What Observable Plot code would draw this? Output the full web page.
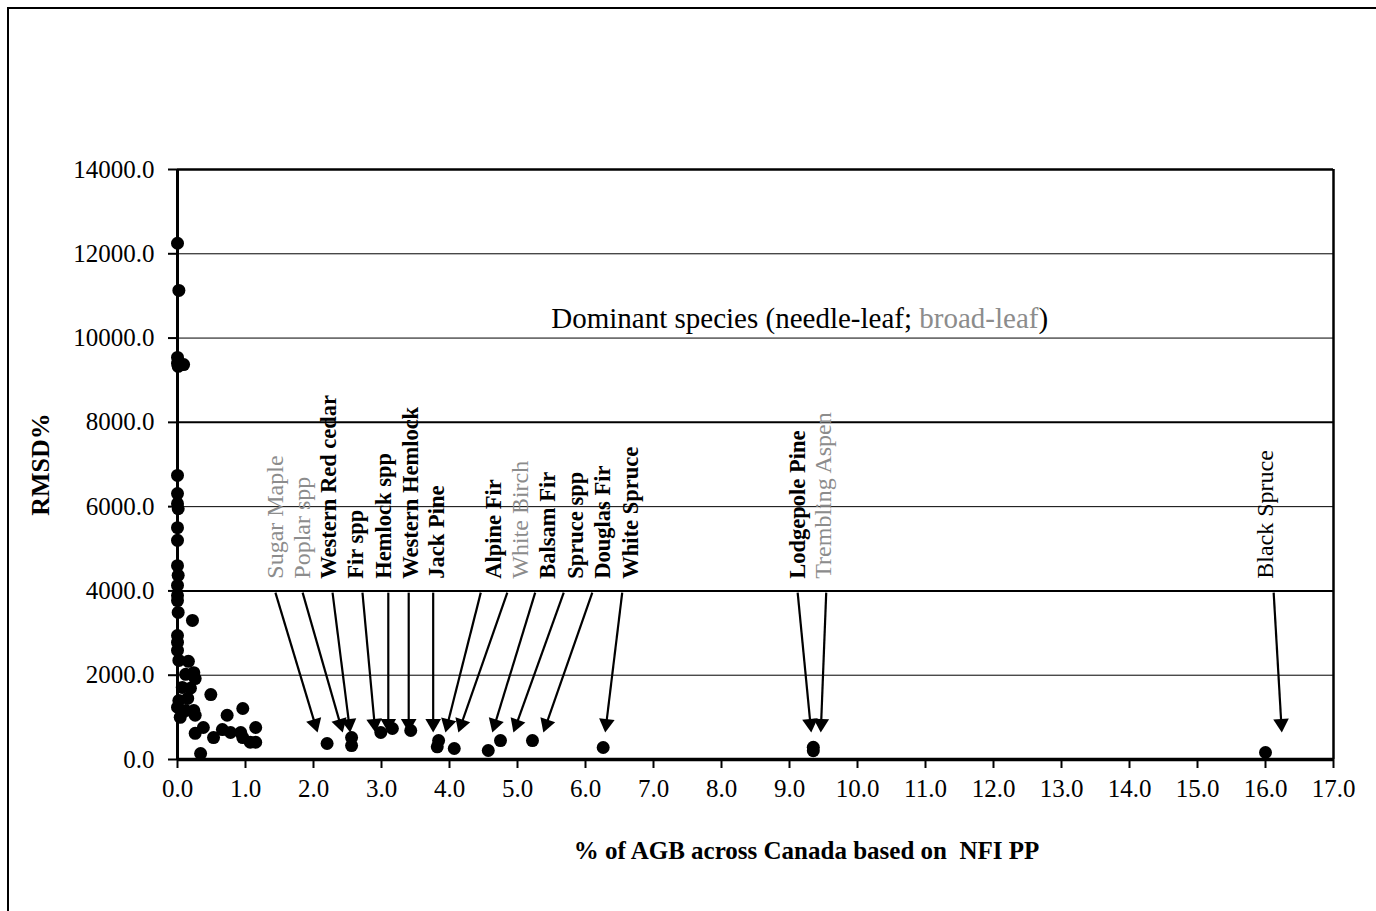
<!DOCTYPE html>
<html><head><meta charset="utf-8">
<script src="https://cdn.jsdelivr.net/npm/d3@7"></script>
<script src="https://cdn.jsdelivr.net/npm/@observablehq/plot@0.6"></script>
<style>
html,body{margin:0;padding:0;background:#fff;}
#wrap{position:relative;width:1376px;height:911px;overflow:hidden;background:#fff;}
#chart{position:absolute;left:0;top:0;}
#border{position:absolute;left:7px;top:7px;width:1500px;height:1000px;border-left:2px solid #000;border-top:2px solid #000;pointer-events:none;}
</style></head><body>
<div id="wrap"><div id="chart"></div><div id="border"></div></div>
<script>
// ---------- DATA ----------
const xTicks = [0,1,2,3,4,5,6,7,8,9,10,11,12,13,14,15,16,17];
const yTicks = [0,2000,4000,6000,8000,10000,12000,14000];
const gridThin = [2000,6000,10000,12000];
const gridThick = [4000,8000];

// all species points: % of AGB (x) and RMSD% (y)
const pointX = [0.00,0.02,0.00,0.00,0.01,0.09,
  0.00,0.00,0.00,0.01,0.00,0.00,0.00,0.01,0.00,0.00,0.00,0.01,0.22,
  0.00,0.00,0.00,0.02,0.16,0.12,0.24,0.26,0.07,0.19,0.49,0.02,0.15,0.00,0.12,0.24,0.26,0.04,
  0.96,0.73,0.38,0.26,0.53,0.66,0.78,0.93,0.96,1.15,1.07,1.15,0.34,
  2.20,2.56,2.56,2.99,3.16,3.43,3.84,3.82,4.07,4.57,4.75,5.22,6.26,9.35,9.35,16.00];
const pointY = [12250,11130,9540,9400,9330,9370,
  6740,6310,6070,5950,5500,5200,4600,4370,4130,3890,3770,3490,3300,
  2940,2780,2590,2350,2330,2020,2060,1920,1710,1690,1540,1400,1450,1240,1160,1160,1050,1000,
  1210,1050,760,620,520,710,640,640,520,760,410,410,140,
  380,520,330,640,735,688,450,300,261,213,450,450,285,290,210,166];

// dominant species annotations
const speciesNames = ["Sugar Maple","Poplar spp","Western Red cedar","Fir spp","Hemlock spp","Western Hemlock","Jack Pine","Alpine Fir","White Birch","Balsam Fir","Spruce spp","Douglas Fir","White Spruce","Lodgepole Pine","Trembling Aspen","Black Spruce"];
const speciesLeaf = ["broad","broad","needle","needle","needle","needle","needle","needle","broad","needle","needle","needle","needle","needle","broad","needle"];
const speciesBold = [false,false,true,true,true,true,true,true,false,true,true,true,true,true,false,false];
const labelX     = [1.44,1.84,2.22,2.62,3.03,3.43,3.82,4.65,5.04,5.44,5.85,6.26,6.66,9.12,9.50,16.00];
const arrowFromX = [1.44,1.84,2.28,2.72,3.10,3.40,3.76,4.46,4.85,5.26,5.68,6.10,6.54,9.12,9.54,16.12];
const arrowToX   = [2.06,2.43,2.54,2.91,3.10,3.40,3.76,3.94,4.13,4.63,4.94,5.38,6.29,9.32,9.46,16.24];
const labelBaseY = 4290;
const arrowFromY = 3960;
const arrowToY = 640;

const titleParts = ["Dominant species (needle-leaf; ", "broad-leaf", ")"];
const titleColors = ["#000", "#8c8c8c", "#000"];
const titleX = 9.15, titleY = 10460;
const xLabel = "% of AGB across Canada based on  NFI PP";
const yLabel = "RMSD%";

// ---------- BUILD ----------
const points = pointX.map((x, i) => ({x, y: pointY[i]}));
const species = speciesNames.map((name, i) => ({
  name, leaf: speciesLeaf[i], bold: speciesBold[i],
  lx: labelX[i], fx: arrowFromX[i], tx: arrowToX[i]
}));
const GRAY = "#8c8c8c";
const FONT = "'Liberation Serif','Times New Roman',serif";
const TRI_R = 5.8;

const baseOpts = {
  width: 1376, height: 911,
  marginLeft: 177, marginRight: 43, marginTop: 169, marginBottom: 152,
  style: {fontFamily: FONT, fontSize: "25px", color: "#000", background: "transparent", overflow: "visible"},
  x: {domain: [0, 17], ticks: xTicks, tickFormat: d => d.toFixed(1), tickSize: 9, tickPadding: 11, label: null},
  y: {domain: [0, 14000], ticks: yTicks, tickFormat: d => d.toFixed(1), tickSize: 9, tickPadding: 14, label: null}
};

function buildMarks(arrows) {
  const m = [
    Plot.ruleY(gridThin, {stroke: "#000", strokeWidth: 1}),
    Plot.ruleY(gridThick, {stroke: "#000", strokeWidth: 2}),
    Plot.ruleY([14000], {stroke: "#000", strokeWidth: 2.5}),
    Plot.ruleX([17], {stroke: "#000", strokeWidth: 2.5}),
    Plot.text([titleParts.join("")], {x: [titleX], y: [titleY], fontSize: 29, fill: "#000", textAnchor: "middle"}),
    Plot.text(species.filter(d => d.leaf === "needle" && d.bold), {x: "lx", y: () => labelBaseY, text: "name", rotate: -90, textAnchor: "start", fontSize: 22.5, fontWeight: "bold", fill: "#000"}),
    Plot.text(species.filter(d => d.leaf === "needle" && !d.bold), {x: "lx", y: () => labelBaseY, text: "name", rotate: -90, textAnchor: "start", fontSize: 24, fill: "#000"}),
    Plot.text(species.filter(d => d.leaf === "broad"), {x: "lx", y: () => labelBaseY, text: "name", rotate: -90, textAnchor: "start", fontSize: 24, fill: GRAY}),
    Plot.text([yLabel], {frameAnchor: "left", dx: -137, rotate: -90, textAnchor: "middle", fontSize: 26, fontWeight: "bold", fill: "#000"}),
    Plot.text([xLabel], {frameAnchor: "bottom", dy: 99, dx: 51, textAnchor: "middle", fontSize: 25, fontWeight: "bold", fill: "#000"}),
    Plot.dot(points, {x: "x", y: "y", r: 6.5, fill: "#000", stroke: "none"}),
    Plot.ruleX([0], {stroke: "#000", strokeWidth: 3}),
    Plot.ruleY([0], {stroke: "#000", strokeWidth: 3.5})
  ];
  if (arrows) {
    m.push(Plot.link(arrows, {x1: "fx", y1: "fy", x2: "cx", y2: "cy", stroke: "#000", strokeWidth: 2.2}));
    m.push(Plot.dot(arrows, {x: "cx", y: "cy", r: TRI_R, symbol: "triangle", rotate: "angle", fill: "#000", stroke: "none"}));
  }
  return m;
}

// first pass: obtain the scales
const first = Plot.plot({...baseOpts, marks: buildMarks(null)});
const sx = first.scale("x"), sy = first.scale("y");
const triOffset = 2 * Math.sqrt(Math.PI * TRI_R * TRI_R / (3 * Math.sqrt(3)));
const arrows = species.map(d => {
  const px1 = sx.apply(d.fx), py1 = sy.apply(arrowFromY);
  const px2 = sx.apply(d.tx), py2 = sy.apply(arrowToY);
  const dx = px2 - px1, dy = py2 - py1, len = Math.hypot(dx, dy);
  const ux = dx / len, uy = dy / len;
  const cxp = px2 - ux * triOffset, cyp = py2 - uy * triOffset;
  return {
    fx: d.fx, fy: arrowFromY,
    cx: sx.invert(cxp), cy: sy.invert(cyp),
    angle: Math.atan2(dx, -dy) * 180 / Math.PI
  };
});

const svg = Plot.plot({...baseOpts, marks: buildMarks(arrows)});
// colour the broad-leaf part of the annotation title
d3.select(svg).selectAll("text").filter(function() { return this.textContent === titleParts.join(""); })
  .each(function() {
    const t = d3.select(this);
    t.text(null);
    titleParts.forEach((p, i) => t.append("tspan").attr("fill", titleColors[i]).text(p));
  });
d3.select(svg).selectAll("[aria-label='x-axis tick'] path, [aria-label='y-axis tick'] path").attr("stroke-width", 2);
document.getElementById("chart").appendChild(svg);
</script>
</body></html>
